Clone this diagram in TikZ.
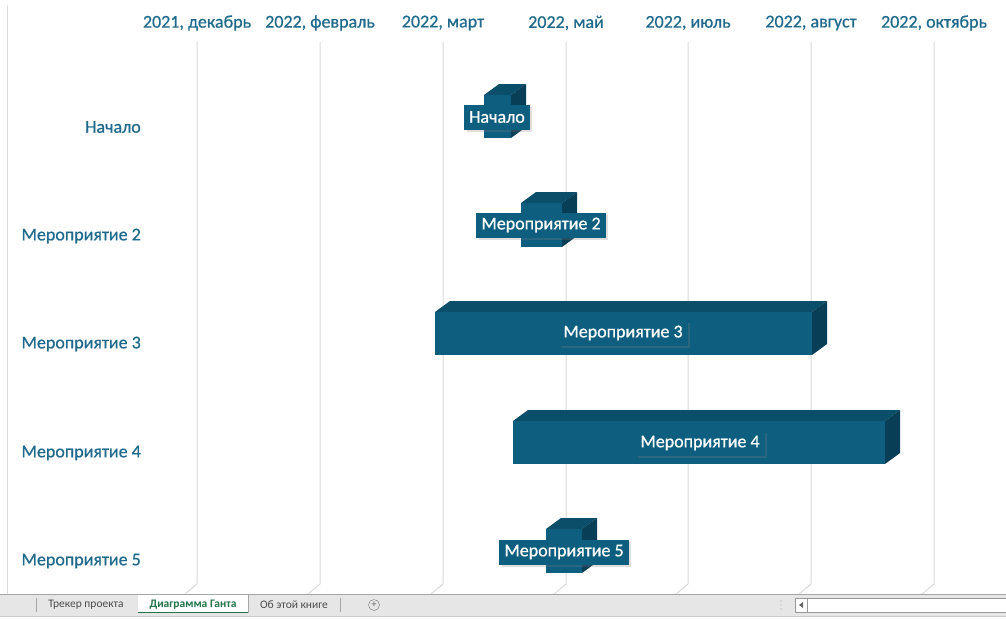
\documentclass[tikz,border=0pt]{standalone}
\usepackage{fontspec}
\setmainfont{Carlito}
\newfontfamily\semifont{Carlito}[FakeBold=0.6]
\usetikzlibrary{shadows}

\definecolor{ccaxis}{RGB}{31,106,140}
\definecolor{ccfront}{RGB}{14,94,128}
\definecolor{cctop}{RGB}{11,78,106}
\definecolor{ccside}{RGB}{8,62,86}
\definecolor{ccgrid}{RGB}{217,217,217}
\definecolor{cctabbar}{RGB}{230,230,230}
\definecolor{cctabgreen}{RGB}{33,115,70}

\tikzset{
  axislabel/.style={text=ccaxis, font=\semifont\fontsize{18}{18}\selectfont, inner sep=0pt},
  rowlabel/.style={axislabel, anchor=east},
  barlabel/.style={fill=ccfront, text=white, font=\semifont\fontsize{18}{18}\selectfont,
    inner xsep=5pt, minimum height=25pt,
    drop shadow={opacity=0.25, shadow xshift=2.5pt, shadow yshift=-2.5pt}},
  tablabel/.style={text=black!70, font=\fontsize{11.5}{11.5}\selectfont, inner sep=0pt}
}

\begin{document}
\begin{tikzpicture}[x=1pt, y=-1pt]
  \useasboundingbox (0,0) rectangle (1006,619);

  % Grid
  \draw[ccgrid, line width=0.8pt] (7,5) -- (7,594);
  \foreach \x/\name/\month in {197/dec/{2021, декабрь}, 320/feb/{2022, февраль},
      443/mar/{2022, март}, 566/may/{2022, май}, 688/jul/{2022, июль},
      811/aug/{2022, август}, 934/oct/{2022, октябрь}} {
    \draw[ccgrid, line width=1pt] (\x,42) -- (\x,584) -- (\x-12,594);
    \node[axislabel] (month-\name) at (\x,23) {\month};
  }

  % Rows
  \node[rowlabel] (row1) at (141,127) {Начало};
  \node[rowlabel] (row2) at (141,236) {Мероприятие 2};
  \node[rowlabel] (row3) at (141,344) {Мероприятие 3};
  \node[rowlabel] (row4) at (141,453) {Мероприятие 4};
  \node[rowlabel] (row5) at (141,561) {Мероприятие 5};

  % Bars
  \foreach \xa/\xb/\ya/\yb in {484/511/95/138, 521/562/203/247, 435/812/312/355,
      513/885/421/464, 546/582/529/573} {
    \fill[cctop] (\xa,\ya) -- (\xa+15,\ya-11) -- (\xb+15,\ya-11) -- (\xb,\ya) -- cycle;
    \fill[ccside] (\xb,\ya) -- (\xb+15,\ya-11) -- (\xb+15,\yb-11) -- (\xb,\yb) -- cycle;
    \fill[ccfront] (\xa,\ya) rectangle (\xb,\yb);
  }

  % Bar labels
  \node[barlabel] (bar1) at (497,117) {Начало};
  \node[barlabel] (bar2) at (541,225) {Мероприятие 2};
  \node[barlabel] (bar3) at (623,333) {Мероприятие 3};
  \node[barlabel] (bar4) at (700,443) {Мероприятие 4};
  \node[barlabel] (bar5) at (564,552) {Мероприятие 5};

  % Tabs
  \fill[cctabbar] (0,594) rectangle (1006,616);
  \draw[black!35] (0,594) -- (1006,594);
  \draw[black!20] (0,616) -- (1006,616);
  \draw[black!35] (36,598) -- (36,612);
  \node[tablabel] (tab1) at (86,605) {Трекер проекта};
  \fill[white] (138,594.5) rectangle (248,613);
  \draw[cctabgreen, line width=1.2pt] (138,612.5) -- (248,612.5);
  \draw[black!35] (248,594) -- (248,613);
  \node[tablabel, text=cctabgreen, font=\fontsize{11.5}{11.5}\selectfont\bfseries] (tab2) at (193,605) {Диаграмма Ганта};
  \node[tablabel] (tab3) at (294,605) {Об этой книге};
  \draw[black!35] (340,598) -- (340,612);
  \node[draw=black!55, circle, inner sep=0pt, minimum size=11pt, text=black!60,
    font=\fontsize{10}{10}\selectfont] (addtab) at (374,605) {+};

  % Scroll
  \foreach \y in {601,605,609} \fill[black!40] (781,\y) circle (0.7pt);
  \draw[black!40, fill=white] (795,598) rectangle (1010,612);
  \draw[black!40] (807,598) -- (807,612);
  \fill[black!60] (799,605) -- (803,602) -- (803,608) -- cycle;

\end{tikzpicture}
\end{document}
